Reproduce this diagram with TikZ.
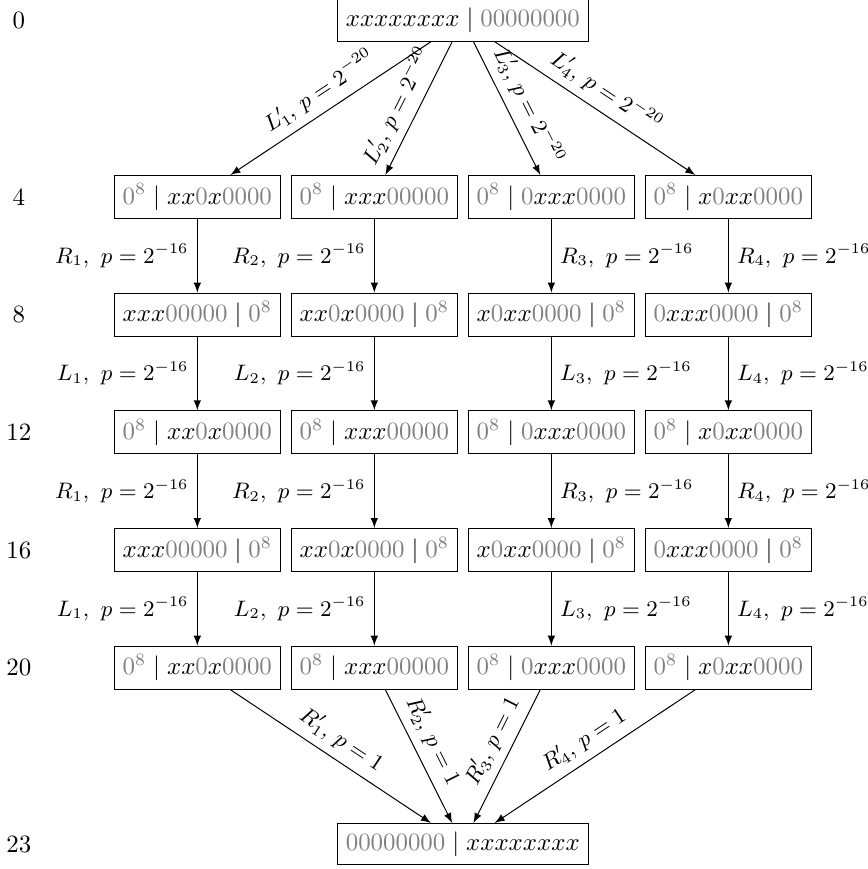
\documentclass[tikz,border=0pt]{standalone}
\usepackage{tikz}
\usetikzlibrary{arrows}

% grey part of a state
\newcommand{\zr}[1]{{\color{gray}#1}}

\tikzset{
  stbox/.style={draw, rectangle},
  rnd/.style={-latex},
  lab/.style={above, sloped, font=\small},
  vlab/.style={font=\small},
}

\begin{document}
\begin{tikzpicture}[y=1.662cm]
  \useasboundingbox (-6.537cm,0.2895cm) rectangle (5.709cm,-11.984cm);

  % Round numbers
  \foreach \t/\y in {0/0, 4/1.5, 8/2.5, 12/3.5, 16/4.5, 20/5.5, 23/7}
    \node (rd\t) at (-6.27,-\y) {\t};

  % Input and output
  \node[stbox] (s0) at (0,0) {$xxxxxxxx \mid \zr{00000000}$};
  \node[stbox] (s23) at (0,-7) {$\zr{00000000} \mid xxxxxxxx$};

  % States after R
  \foreach \r/\y in {4/1.5, 12/3.5, 20/5.5} {
    \node[stbox] (n\r-1) at (-3.75,-\y) {$\zr{0^8} \mid xx\zr{0}x\zr{0000}$};
    \node[stbox] (n\r-2) at (-1.25,-\y) {$\zr{0^8} \mid xxx\zr{00000}$};
    \node[stbox] (n\r-3) at (1.25,-\y) {$\zr{0^8} \mid \zr{0}xxx\zr{0000}$};
    \node[stbox] (n\r-4) at (3.75,-\y) {$\zr{0^8} \mid x\zr{0}xx\zr{0000}$};
  }

  % States after L
  \foreach \r/\y in {8/2.5, 16/4.5} {
    \node[stbox] (n\r-1) at (-3.75,-\y) {$xxx\zr{00000} \mid \zr{0^8}$};
    \node[stbox] (n\r-2) at (-1.25,-\y) {$xx\zr{0}x\zr{0000} \mid \zr{0^8}$};
    \node[stbox] (n\r-3) at (1.25,-\y) {$x\zr{0}xx\zr{0000} \mid \zr{0^8}$};
    \node[stbox] (n\r-4) at (3.75,-\y) {$\zr{0}xxx\zr{0000} \mid \zr{0^8}$};
  }

  % First and last rounds
  \foreach \i/\q/\w in {1/0.5/0.5, 2/0.55/0.45, 3/0.55/0.45, 4/0.5/0.5} {
    \draw[rnd] (s0) -- node[lab, pos=\q] {$L'_\i$, $p=2^{-20}$} (n4-\i);
    \draw[rnd] (n20-\i) -- node[lab, pos=\w] {$R'_\i$, $p=1$} (s23);
  }

  % Middle rounds
  \foreach \a/\b/\f in {4/8/R, 8/12/L, 12/16/R, 16/20/L} {
    \draw[rnd] (n\a-1) -- node[vlab, left] {$\f_1,\ p=2^{-16}$} (n\b-1);
    \draw[rnd] (n\a-2) -- node[vlab, left] {$\f_2,\ p=2^{-16}$} (n\b-2);
    \draw[rnd] (n\a-3) -- node[vlab, right] {$\f_3,\ p=2^{-16}$} (n\b-3);
    \draw[rnd] (n\a-4) -- node[vlab, right] {$\f_4,\ p=2^{-16}$} (n\b-4);
  }
\end{tikzpicture}
\end{document}
